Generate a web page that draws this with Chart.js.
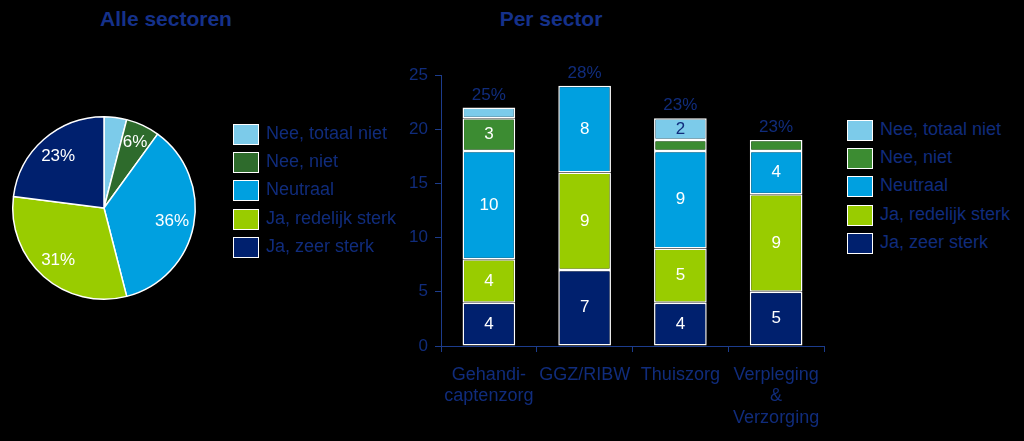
<!DOCTYPE html>
<html><head><meta charset="utf-8">
<script src="https://cdn.jsdelivr.net/npm/chart.js@4"></script>
<style>
html,body{margin:0;padding:0;background:#000;width:1024px;height:441px;overflow:hidden;font-family:"Liberation Sans",Arial,sans-serif;}
.t{position:absolute;color:#15318a;font-weight:bold;font-size:21px;transform:translateX(-50%);top:7px;white-space:nowrap;}
.lg{position:absolute;color:#102c7c;font-size:18px;}
.lg div{position:relative;height:28.2px;}
.lg span.b{position:absolute;left:0;top:4px;width:24px;height:19px;border:1px solid #fff;}
.lg span.x{position:absolute;left:33px;top:3px;line-height:21px;white-space:nowrap;}
#pieWrap{position:absolute;left:4px;top:108px;width:200px;height:200px;}
#barWrap{position:absolute;left:395px;top:55px;width:440px;height:386px;}
</style></head>
<body>
<div class="t" style="left:166px">Alle sectoren</div>
<div class="t" style="left:551px">Per sector</div>
<div id="pieWrap"><canvas id="pie"></canvas></div>
<div id="barWrap"><canvas id="bar"></canvas></div>
<div class="lg" id="lg1" style="left:233px;top:120px"></div>
<div class="lg" id="lg2" style="left:847px;top:116px"></div>
<script>
const seriesNames = ["Nee, totaal niet","Nee, niet","Neutraal","Ja, redelijk sterk","Ja, zeer sterk"];
const piePercent = [4, 6, 36, 31, 23];
const pieLabels = ["", "6%", "36%", "31%", "23%"];
const sectors = [["Gehandi-","captenzorg"],"GGZ/RIBW","Thuiszorg",["Verpleging","&","Verzorging"]];
const neeTotaalNiet = [1, 0, 2, 0];
const neeNiet = [3, 0, 1, 1];
const neutraal = [10, 8, 9, 4];
const jaRedelijk = [4, 9, 5, 9];
const jaZeer = [4, 7, 4, 5];
const topLabels = ["25%","28%","23%","23%"];
const yTicks = [0,5,10,15,20,25];

const pieColors = ["#7ccbea","#2e6b2c","#00a0e0","#99cc00","#00206e"];
const barColors = ["#7ccbea","#3c8c32","#00a0e0","#99cc00","#00206e"];
const navyText = "#102c7c";
const axisCol = "#1c3c8c";
const FONT = '"Liberation Sans", Arial, sans-serif';

function legend(id, cols){
  const el = document.getElementById(id);
  seriesNames.forEach((n,i)=>{
    const d=document.createElement('div');
    d.innerHTML='<span class="b" style="background:'+cols[i]+'"></span><span class="x">'+n+'</span>';
    el.appendChild(d);
  });
}
legend('lg1', pieColors);
legend('lg2', barColors);

const pieLabelPlugin = {
  id:'pieLabels',
  afterDatasetsDraw(chart){
    const ctx=chart.ctx; const meta=chart.getDatasetMeta(0);
    ctx.save(); ctx.font='17px '+FONT; ctx.fillStyle='#fff'; ctx.textAlign='center'; ctx.textBaseline='middle';
    meta.data.forEach((arc,i)=>{
      const t=pieLabels[i]; if(!t) return;
      const mid=(arc.startAngle+arc.endAngle)/2;
      const r=arc.outerRadius*(i===1?0.8:0.76);
      ctx.fillText(t, arc.x+Math.cos(mid)*r, arc.y+Math.sin(mid)*r);
    });
    ctx.restore();
  }
};

new Chart(document.getElementById('pie'),{
  type:'pie',
  data:{labels:seriesNames,datasets:[{data:piePercent,backgroundColor:pieColors,borderColor:'#fff',borderWidth:1.5}]},
  options:{responsive:true,maintainAspectRatio:false,animation:false,layout:{padding:8},
    plugins:{legend:{display:false},tooltip:{enabled:false}}},
  plugins:[pieLabelPlugin]
});

const barLabelPlugin = {
  id:'barLabels',
  afterDatasetsDraw(chart){
    const ctx=chart.ctx;
    ctx.save(); ctx.font='17px '+FONT; ctx.textAlign='center'; ctx.textBaseline='middle';
    chart.data.datasets.forEach((ds,di)=>{
      const meta=chart.getDatasetMeta(di);
      meta.data.forEach((bar,i)=>{
        const v=ds.data[i]; if(v<2) return;
        ctx.fillStyle = di===4 ? navyText : '#fff';
        ctx.fillText(String(v), bar.x, (bar.y+bar.base)/2);
      });
    });
    const ys=chart.scales.y;
    ctx.fillStyle=navyText; ctx.textBaseline='alphabetic';
    topLabels.forEach((t,i)=>{
      let tot=0; chart.data.datasets.forEach(ds=>tot+=ds.data[i]);
      const x=chart.getDatasetMeta(0).data[i].x;
      ctx.fillText(t, x, ys.getPixelForValue(tot)-8);
    });
    ctx.restore();
  }
};

const order = [jaZeer, jaRedelijk, neutraal, neeNiet, neeTotaalNiet];
const orderIdx = [4,3,2,1,0];
new Chart(document.getElementById('bar'),{
  type:'bar',
  data:{labels:sectors,datasets:order.map((d,k)=>({label:seriesNames[orderIdx[k]],data:d,backgroundColor:barColors[orderIdx[k]],borderColor:'#fff',borderWidth:1.5,borderSkipped:false,barPercentage:0.55,categoryPercentage:1}))},
  options:{responsive:true,maintainAspectRatio:false,animation:false,
    layout:{padding:{left:0,top:20,right:11,bottom:0}},
    plugins:{legend:{display:false},tooltip:{enabled:false}},
    scales:{
      x:{stacked:true,grid:{display:true,drawOnChartArea:false,offset:true,color:axisCol,tickLength:6},
        border:{color:axisCol,width:1},
        ticks:{color:navyText,font:{family:FONT,size:18,lineHeight:1.2},padding:12,maxRotation:0,autoSkip:false},
        afterFit(s){s.height=95;}},
      y:{stacked:true,min:0,max:25,grid:{display:true,drawOnChartArea:false,color:axisCol,tickLength:6},
        border:{color:axisCol,width:1},
        afterBuildTicks(s){s.ticks=yTicks.map(v=>({value:v}));},
        ticks:{color:navyText,font:{family:FONT,size:17},padding:7},
        afterFit(s){s.width=46;}}
    }
  },
  plugins:[barLabelPlugin]
});
</script>
</body></html>
